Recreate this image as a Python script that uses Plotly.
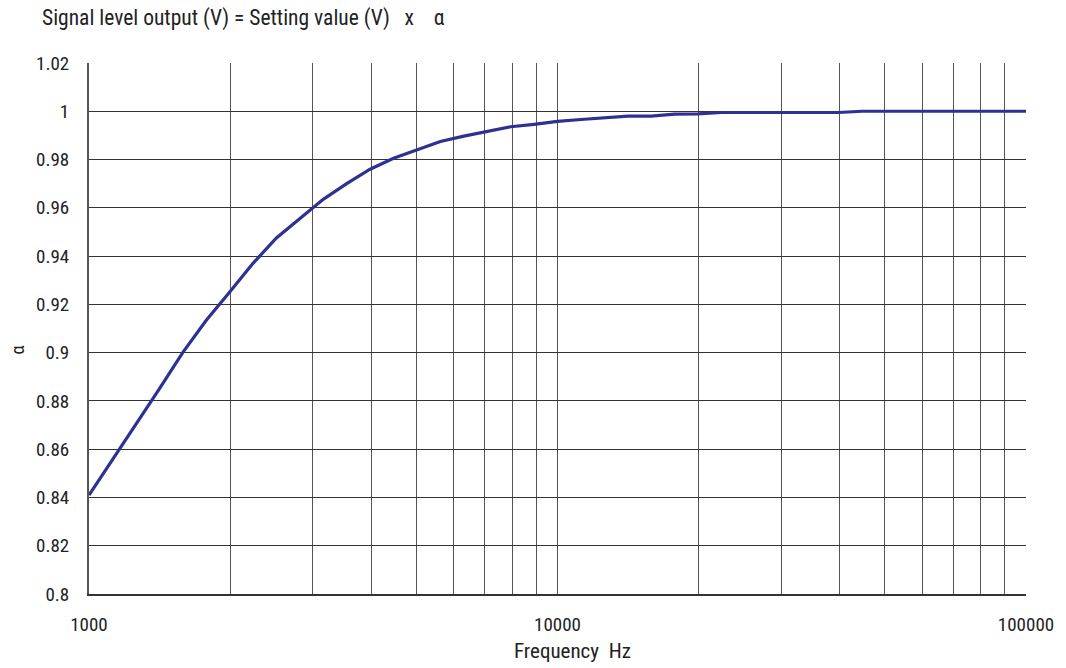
import plotly.graph_objects as go

freq_hz = [1000, 1122, 1259, 1413, 1585, 1778, 1995, 2239, 2512, 2818, 3162, 3548,
           3981, 4467, 5012, 5623, 6310, 7079, 7943, 8913, 10000, 11220, 12590,
           14130, 15850, 17780, 19950, 22390, 25120, 28180, 31620, 35480, 39810,
           44670, 50120, 56230, 63100, 70790, 79430, 89130, 100000]
alpha = [0.841, 0.8555, 0.870, 0.885, 0.900, 0.9133, 0.925, 0.937, 0.9475, 0.9555,
         0.9635, 0.970, 0.976, 0.9805, 0.984, 0.9875, 0.9897, 0.9915, 0.9936, 0.9946,
         0.9958, 0.9966, 0.9973, 0.9980, 0.9980, 0.9988, 0.9989, 0.9995, 0.9995,
         0.9995, 0.9995, 0.9995, 0.9995, 1.0, 1.0, 1.0, 1.0, 1.0, 1.0, 1.0, 1.0]

x_grid = [1000, 2000, 3000, 4000, 5000, 6000, 7000, 8000, 9000,
          10000, 20000, 30000, 40000, 50000, 60000, 70000, 80000, 90000, 100000]
x_labels = ["1000", "", "", "", "", "", "", "", "",
            "10000", "", "", "", "", "", "", "", "", "100000"]
y_ticks = [0.8, 0.82, 0.84, 0.86, 0.88, 0.9, 0.92, 0.94, 0.96, 0.98, 1.0, 1.02]
y_labels = ["0.8", "0.82", "0.84", "0.86", "0.88", "0.9", "0.92", "0.94", "0.96",
            "0.98", "1", "1.02"]

FONT = "Liberation Sans Narrow, Roboto Condensed, Liberation Sans, Arial"

fig = go.Figure()
fig.add_trace(go.Scatter(x=freq_hz, y=alpha, mode="lines",
                         line=dict(color="#2E3192", width=3.2),
                         showlegend=False, hoverinfo="x+y"))

fig.update_layout(
    width=1066, height=668,
    margin=dict(l=89, r=40, t=63, b=74, autoexpand=False),
    paper_bgcolor="white", plot_bgcolor="white",
    font=dict(family=FONT, size=19, color="#222222"),
    xaxis=dict(type="log", range=[3, 5], tickmode="array",
               tickvals=x_grid, ticktext=x_labels, automargin=False,
               showgrid=True, gridcolor="#555555", gridwidth=1,
               showline=True, linecolor="#333333", linewidth=2,
               ticks="", ticklabelstandoff=12, zeroline=False,
               tickfont=dict(family=FONT, size=19, color="#222222")),
    yaxis=dict(range=[0.8, 1.02], tickmode="array",
               tickvals=y_ticks, ticktext=y_labels, automargin=False,
               showgrid=True, gridcolor="#333333", gridwidth=1,
               showline=True, linecolor="#555555", linewidth=2,
               ticks="", ticklabelstandoff=14, zeroline=False,
               tickfont=dict(family=FONT, size=19, color="#222222")),
    annotations=[
        dict(text="Signal level output (V) = Setting value (V)\u00a0\u00a0\u00a0x\u00a0\u00a0\u00a0\u00a0α",
             xref="paper", yref="paper", x=0, xshift=-49, y=1.0, yshift=45,
             xanchor="left", yanchor="middle", showarrow=False,
             font=dict(family=FONT, size=21.5, color="#222222")),
        dict(text="Frequency  Hz", xref="paper", yref="paper",
             x=0.5165, y=0, yshift=-57, xanchor="center", yanchor="middle",
             showarrow=False, font=dict(family=FONT, size=21, color="#222222")),
        dict(text="α", xref="paper", yref="paper", x=0, xshift=-71,
             y=0.46, xanchor="center", yanchor="middle", textangle=-90,
             showarrow=False, font=dict(family=FONT, size=19, color="#222222")),
    ],
)

fig.write_html("out.html", config={"displayModeBar": False},
               post_script="document.body.style.margin='0';document.body.style.padding='0';")
